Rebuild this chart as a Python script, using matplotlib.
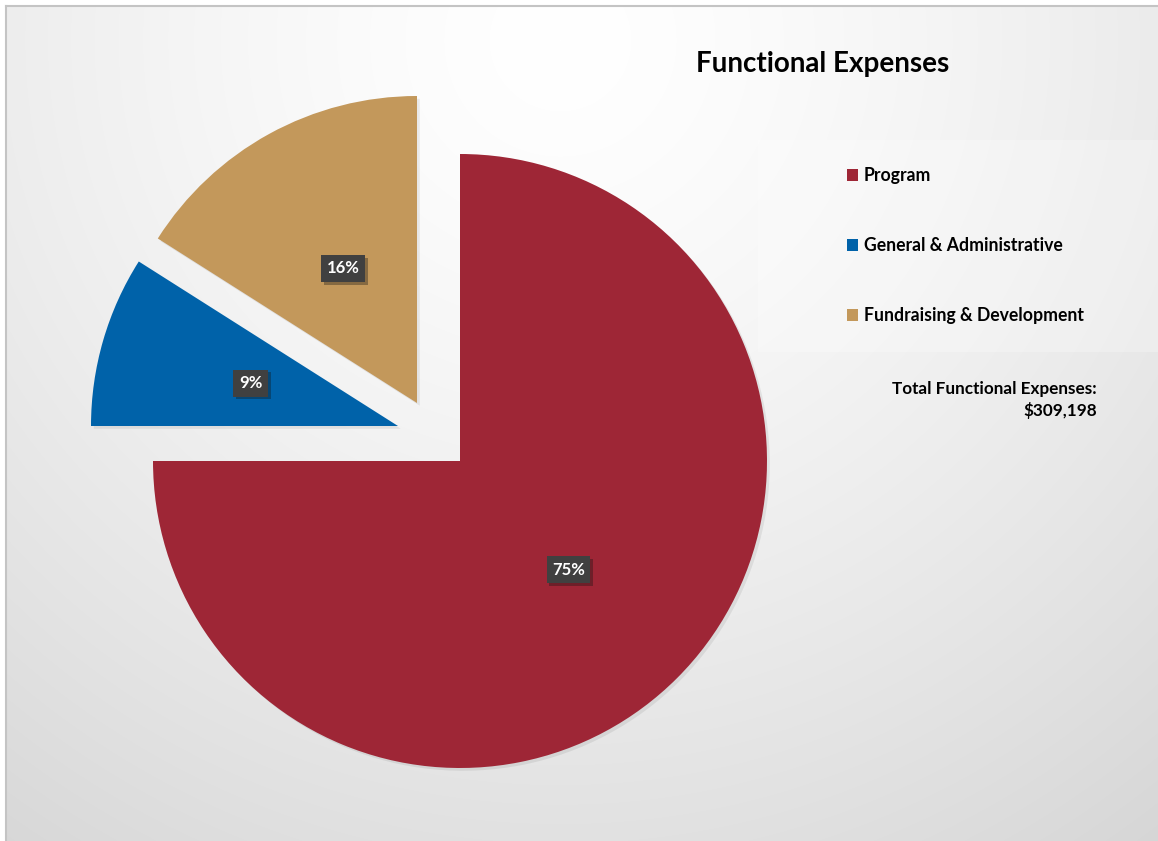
import numpy as np
import matplotlib.pyplot as plt
import matplotlib.patheffects as pe
from matplotlib.patches import Rectangle

plt.rcParams['font.family'] = ['Lato', 'DejaVu Sans']

### Data

categories = ['Program', 'General & Administrative', 'Fundraising & Development']
shares = [75, 9, 16]
total_label = 'Total Functional Expenses:\n$309,198'
title = 'Functional Expenses'

### Style

colors = ['#9E2636', '#0062A9', '#C3985B']
# shift of each slice away from the centre, in pixels (x, y)
slice_shift = [(0, 0), (-62, 35), (-43, 58)]
W, H = 1158, 841

fig = plt.figure(figsize=(W / 100, H / 100), dpi=100)
ax = fig.add_axes([0, 0, 1, 1])

# soft grey gradient behind everything
yy, xx = np.mgrid[0:H, 0:W]
dist = np.hypot(xx - 560, yy - 40) / 1000.0
shade = 1.0 - 0.16 * np.clip(dist, 0, 1.2) ** 1.4
bg = np.dstack([shade, shade, shade])
bg[:6, :, :] = 1.0
bg[:, :6, :] = 1.0
ax.imshow(bg, extent=(0, W, 0, H), origin='upper', zorder=0)
ax.plot([6, W], [H - 6, H - 6], color='#c4c4c4', lw=1.5, zorder=1)
ax.plot([6, 6], [0, H - 6], color='#c4c4c4', lw=1.5, zorder=1)

# legend panel, a touch lighter than the background
ax.add_patch(Rectangle((758, H - 352), W - 758, 212, facecolor='white',
                       alpha=0.25, edgecolor='none', zorder=1))

wedges, _ = ax.pie(shares, colors=colors, startangle=90, counterclock=False,
                   radius=307, center=(460, H - 461), frame=True,
                   wedgeprops=dict(linewidth=0, zorder=3))

for w, s, v in zip(wedges, slice_shift, shares):
   cx, cy = w.center
   w.set_center((cx + s[0], cy + s[1]))
   w.set_path_effects([pe.SimplePatchShadow(offset=(2, -2), shadow_rgbFace='black', alpha=0.07),
                       pe.Normal()])
   mid = np.deg2rad((w.theta1 + w.theta2) / 2)
   lx = w.center[0] + 0.5 * w.r * np.cos(mid)
   ly = w.center[1] + 0.5 * w.r * np.sin(mid)
   t = ax.text(lx, ly, '{}%'.format(v), ha='center', va='center', color='white',
               fontsize=12, fontweight='bold', zorder=5,
               bbox=dict(boxstyle='square,pad=0.33', facecolor='#404040', edgecolor='none'))
   t.get_bbox_patch().set_path_effects([pe.SimplePatchShadow(offset=(2, -2), alpha=0.35),
                                        pe.Normal()])

ax.text(823, H - 64, title, ha='center', va='center', fontsize=20,
        fontweight='bold', color='black', zorder=5)

leg = ax.legend(wedges, categories, loc='upper left', bbox_to_anchor=(838, H - 158),
                bbox_transform=ax.transData, frameon=False, fontsize=12.7,
                labelspacing=3.02, handlelength=0.66, handleheight=0.66,
                handletextpad=0.3, borderpad=0)
for txt in leg.get_texts():
   txt.set_fontweight('bold')
for h in leg.legend_handles:
   h.set_path_effects([])

ax.text(1097, H - 400, total_label, ha='right', va='center', fontsize=12.3,
        fontweight='bold', color='black', linespacing=1.35, zorder=5)

ax.set_xlim(0, W)
ax.set_ylim(0, H)
ax.set_aspect('equal')
ax.axis('off')

plt.savefig('out.png', dpi=100)
plt.close()
